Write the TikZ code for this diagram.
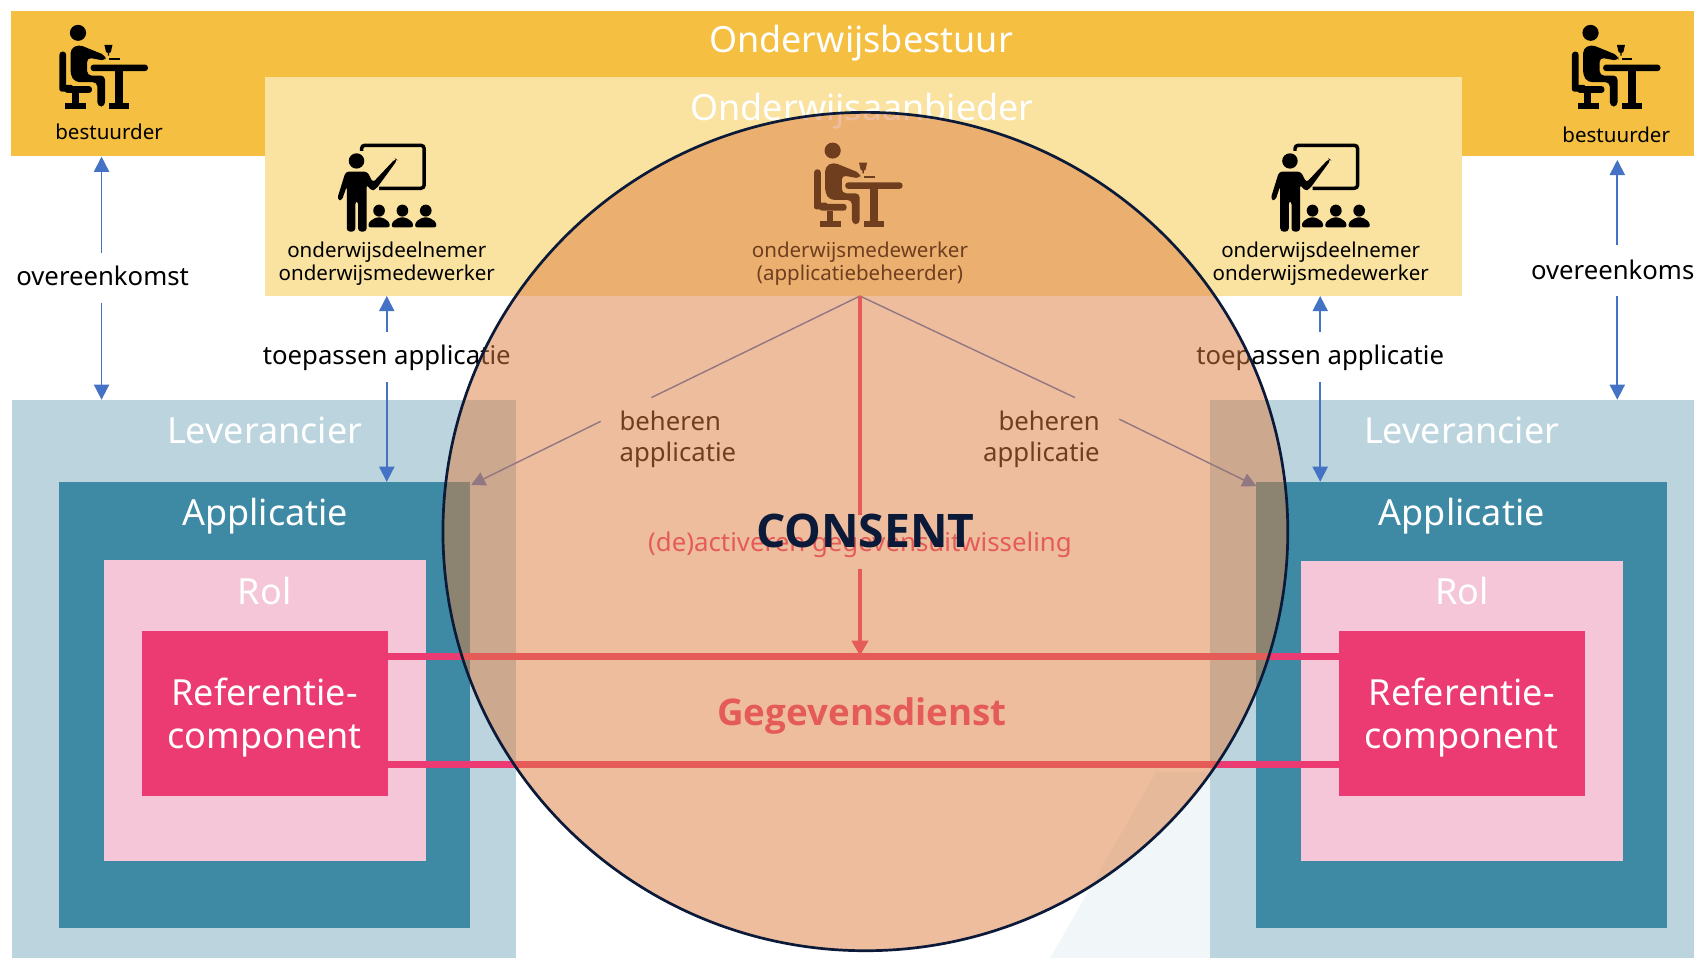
\documentclass[tikz,border=0pt]{standalone}
\usepackage{fontspec}
\setmainfont{Noto Sans}
\newfontfamily\boldfam{Open Sans}
\usetikzlibrary{arrows.meta}
\definecolor{bandc}{HTML}{F5BF42}
\definecolor{yellowc}{HTML}{FAE3A0}
\definecolor{levc}{HTML}{BBD4DE}
\definecolor{appc}{HTML}{3E8AA5}
\definecolor{rolc}{HTML}{F4C6D7}
\definecolor{refc}{HTML}{EC3A72}
\definecolor{bluec}{HTML}{4472C4}
\definecolor{circc}{HTML}{DD7D3F}
\definecolor{navyc}{HTML}{0B1A38}
\definecolor{palec}{HTML}{F1F6F9}
\tikzset{
  box/.style={draw=none,fill=#1,inner sep=0pt,outer sep=0pt},
  arr/.style={draw=bluec,fill=bluec,line width=1.6pt,-{Triangle[length=14pt,width=14pt]}},
  thin arr/.style={draw=bluec,line width=1.3pt,-{Triangle[length=13pt,width=13pt]}},
  thin plain/.style={draw=bluec,line width=1.3pt},
  big/.style={text=white,font=\fontsize{33.3}{38}\selectfont,align=center},
  mid/.style={text=black,font=\fontsize{23.8}{29}\selectfont,align=center},
  small/.style={text=black,font=\fontsize{19}{21.5}\selectfont,align=center},
  refbox/.style={box=refc,minimum width=228pt,minimum height=153pt},
  reftext/.style={text=white,font=\fontsize{33.3}{40}\selectfont,align=center},
}
\newcommand\deskicon[2]{%
\begin{scope}[shift={(#1pt,-#2pt)},x=.313pt,y=-.3085pt,black]
  \fill (55,24) circle (24);
  \fill[rounded corners=3pt] (0,80) rectangle (20,194);
  \fill[rounded corners=2pt] (0,180) rectangle (40,200);
  \fill[rounded corners=4pt] (33,72) -- (57,59) -- (137,92) -- (137,108) -- (82,98) -- (82,152) -- (135,152) -- (135,245) -- (112,245) -- (112,172) -- (47,172) -- (33,152) -- cycle;
  \fill[rounded corners=2.5pt] (15,184) rectangle (96,204);
  \fill (37,204) rectangle (57,236);
  \fill (17,235) rectangle (79,253);
  \fill[rounded corners=3pt] (92,119) rectangle (262,139);
  \fill (165,139) rectangle (189,236);
  \fill (147,235) rectangle (207,253);
  \fill (133,60) -- (157,60) -- (152,82) -- (147,84) -- (147,92) -- (143,92) -- (143,84) -- (138,82) -- cycle;
  \fill (147,100) rectangle (179,106);
\end{scope}}
\newcommand\teachicon[2]{%
\begin{scope}[shift={(#1pt,-#2pt)},x=.36pt,y=-.3085pt,black]
  \draw[line width=3.2pt,rounded corners=3pt] (63,25) -- (63,8) -- (224,8) -- (224,137) -- (108,137);
  \fill (50,55) ellipse (20 and 23);
  \fill[rounded corners=3pt] (22,87) -- (78,87) -- (92,120) -- (150,48) -- (155,52) -- (100,140) -- (88,145) -- (76,125) -- (76,267) -- (54,267) -- (54,175) -- (47,175) -- (47,267) -- (25,267) -- (25,130) -- (12,175) -- (0,170) -- cycle;
  \foreach \px in {108,168,228}{
    \fill (\px,204) ellipse (15 and 18);
    \fill[rounded corners=2pt] (\px-28,254) -- (\px-26,238) -- (\px-8,224) -- (\px+8,224) -- (\px+26,238) -- (\px+28,254) -- cycle;
  }
\end{scope}}
\begin{document}
\begin{tikzpicture}[x=1pt,y=-1pt]
\useasboundingbox (0,0) rectangle (1568,886.7);
\fill[white] (0,0) rectangle (1568,886.7);
% pale polygon
\fill[palec] (972,887) -- (1070,715) -- (1120,715) -- (1120,887) -- cycle;
% top band
\path[box=bandc] (10,10) rectangle (1568,144);
\path[box=yellowc] (245,71) rectangle (1353,274);
% suppliers
\path[box=levc] (11,370) rectangle (478,887);
\path[box=levc] (1120,370) rectangle (1568,887);
\path[box=appc] (55,446) rectangle (435,859);
\path[box=appc] (1163,446) rectangle (1543,859);
\path[box=rolc] (96,518) rectangle (394,797);
\path[box=rolc] (1204,519) rectangle (1502,797);
% data service lines
\coordinate (dsLt) at (359,607.5); \coordinate (dsRt) at (1239,607.5);
\coordinate (dsLb) at (359,708); \coordinate (dsRb) at (1239,708);
\draw[refc,line width=6.5pt] (dsLt) -- (dsRt);
\draw[refc,line width=6.5pt] (dsLb) -- (dsRb);
\node[refbox] (refL) at (245,660.5) {};
\node[refbox] (refR) at (1353,660.5) {};
\node[reftext] (refLt) at (245,664.5) {Referentie-\\component};
\node[reftext] (refRt) at (1353,664.5) {Referentie-\\component};
% titles
\node[big] (tBest) at (797,40) {Onderwijsbestuur};
\node[big] (tAanb) at (798,103) {Onderwijsaanbieder};
\node[big] (levL) at (245,398) {Leverancier};
\node[big] (levR) at (1353,398) {Leverancier};
\node[big] (appL) at (245.5,478) {Applicatie};
\node[big] (appR) at (1353,478) {Applicatie};
\node[big] (rolL) at (245,547) {Rol};
\node[big] (rolR) at (1353,547) {Rol};
% icons
\deskicon{55}{23}
\deskicon{1455}{23}
\deskicon{753.5}{132}
\teachicon{312}{132}
\teachicon{1176}{132}
% role labels
\node[small] (bestL) at (101,122) {bestuurder};
\node[small] (bestR) at (1496,125) {bestuurder};
\node[small] (odL) at (358,244) {onderwijsdeelnemer\\onderwijsmedewerker};
\node[small] (odR) at (1222.5,244) {onderwijsdeelnemer\\onderwijsmedewerker};
\node[small] (odM) at (796,244) {onderwijsmedewerker\\(applicatiebeheerder)};
% edge labels
\node[mid] (ovL) at (95,255) {overeenkomst};
\node[mid] (ovR) at (1497,250) {overeenkomst};
\node[mid] (toL) at (358,331) {toepassen applicatie};
\node[mid] (toR) at (1222,331) {toepassen applicatie};
\node[mid,align=left] (behL) at (627.5,406.5) {beheren\\applicatie};
\node[mid,align=right] (behR) at (964,406.5) {beheren\\applicatie};
\node[text=refc,font=\fontsize{23.9}{28}\selectfont] (deact) at (796,504) {(de)activeren gegevensuitwisseling};
\node[text=refc,font=\boldfam\bfseries\fontsize{34}{38}\selectfont] (gegd) at (798,663) {Gegevensdienst};
% blue arrows
\coordinate (a1) at (94,145); \coordinate (a2) at (94,234);
\coordinate (a3) at (94,280); \coordinate (a4) at (94,370);
\draw[arr] (a2) -- (a1);
\draw[arr] (a3) -- (a4);
\coordinate (b1) at (1497,148); \coordinate (b2) at (1497,227);
\coordinate (b3) at (1497,274); \coordinate (b4) at (1497,370);
\draw[arr] (b2) -- (b1);
\draw[arr] (b3) -- (b4);
\coordinate (c1) at (358,274); \coordinate (c2) at (358,307);
\coordinate (c3) at (358,354); \coordinate (c4) at (358,446);
\draw[arr] (c2) -- (c1);
\draw[arr] (c3) -- (c4);
\coordinate (d1) at (1222,274); \coordinate (d2) at (1222,307);
\coordinate (d3) at (1222,354); \coordinate (d4) at (1222,446);
\draw[arr] (d2) -- (d1);
\draw[arr] (d3) -- (d4);
% beheren lines
\coordinate (apex) at (796,274);
\coordinate (e1) at (603,368); \coordinate (e2) at (556,390); \coordinate (e3) at (436,449);
\draw[thin plain] (apex) -- (e1);
\draw[thin arr] (e2) -- (e3);
\coordinate (f1) at (995,368); \coordinate (f2) at (1036,388); \coordinate (f3) at (1163,450);
\draw[thin plain] (apex) -- (f1);
\draw[thin arr] (f2) -- (f3);
% red arrow
\coordinate (g1) at (796,477); \coordinate (g2) at (796,527); \coordinate (g3) at (796,607);
\draw[refc,line width=3pt] (apex) -- (g1);
\draw[refc,line width=3pt,-{Triangle[length=14pt,width=15pt]}] (g2) -- (g3);
% circle
\draw[navyc,line width=2.5pt,fill=circc,fill opacity=.5] (801,492) ellipse (391 and 388);
\node[text=navyc,font=\boldfam\bfseries\fontsize{42.8}{48}\selectfont] (cons) at (801,491) {CONSENT};
\end{tikzpicture}
\end{document}
